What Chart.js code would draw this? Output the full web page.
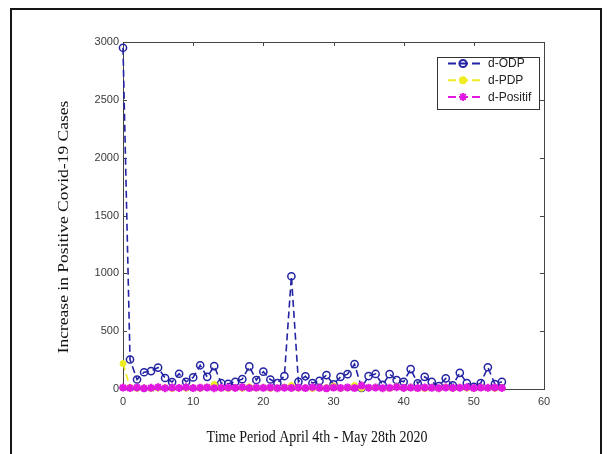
<!DOCTYPE html>
<html><head><meta charset="utf-8">
<script src="https://cdn.jsdelivr.net/npm/chart.js@4.4.1/dist/chart.umd.min.js"></script>
<style>html,body{margin:0;padding:0;background:#fff;}#wrap{width:610px;height:454px;position:relative;}</style>
</head><body><div id="wrap"><canvas id="c" width="610" height="454"></canvas></div>
<script>
// ---- data ----
const days = [0,1,2,3,4,5,6,7,8,9,10,11,12,13,14,15,16,17,18,19,20,21,22,23,24,25,26,27,28,29,30,31,32,33,34,35,36,37,38,39,40,41,42,43,44,45,46,47,48,49,50,51,52,53,54];
const dODP = [2950,255,82,145,155,185,95,60,132,62,100,205,105,198,50,45,62,85,195,78,150,82,52,112,975,62,110,52,70,120,40,105,128,215,10,112,130,35,128,78,62,172,48,105,62,25,92,32,140,52,18,52,188,42,62];
const dPDP = [220,15,5,10,3,8,12,4,9,6,11,5,14,40,8,5,10,6,20,7,12,5,9,15,30,6,10,4,8,12,25,5,9,30,6,10,14,7,5,20,8,12,6,3,9,5,15,4,10,7,6,12,8,5,10];
const dPositif = [12,8,14,6,10,16,7,12,9,15,8,11,14,7,10,13,9,16,8,12,10,14,7,11,9,13,8,15,10,6,12,9,14,8,30,11,13,7,10,16,9,12,8,14,10,7,13,9,11,15,8,12,10,14,9];
const seriesLabels = ['d-ODP','d-PDP','d-Positif'];
const xTicks = [0,10,20,30,40,50,60];
const yTicks = [0,500,1000,1500,2000,2500,3000];
const xTitle = 'Time Period April 4th - May 28th 2020';
const yTitle = 'Increase in Positive Covid-19 Cases';

const pts = arr => days.map((d,i)=>({x:d,y:arr[i]}));
const serif = '14px "Liberation Serif", "Times New Roman", serif';

const frame = {
  id:'frame',
  beforeDraw(chart){
    const c = chart.ctx;
    c.save();
    c.fillStyle='#fff'; c.fillRect(0,0,chart.width,chart.height);
    c.strokeStyle='#151515'; c.lineWidth=2;
    c.strokeRect(11,9,590,500);
    c.restore();
  },
  beforeDatasetsDraw(chart){
    const c = chart.ctx, a = chart.chartArea;
    const xs = chart.scales.x, ys = chart.scales.y;
    c.save();
    c.strokeStyle='#444'; c.lineWidth=1;
    c.strokeRect(Math.round(a.left)+0.5, Math.round(a.top)+0.5, Math.round(a.right-a.left), Math.round(a.bottom-a.top));
    const L=4;
    c.beginPath();
    xTicks.forEach(v=>{const p=Math.round(xs.getPixelForValue(v))+0.5;
      c.moveTo(p,a.bottom); c.lineTo(p,a.bottom-L); c.moveTo(p,a.top); c.lineTo(p,a.top+L);});
    yTicks.forEach(v=>{const p=Math.round(ys.getPixelForValue(v))+0.5;
      c.moveTo(a.left,p); c.lineTo(a.left+L,p); c.moveTo(a.right,p); c.lineTo(a.right-L,p);});
    c.stroke();
    c.restore();
  },
  afterDraw(chart){
    const c = chart.ctx;
    // axis titles (source image is stretched vertically)
    c.save();
    c.fillStyle='#111'; c.font=serif; c.textAlign='center'; c.textBaseline='middle';
    c.translate(317,437); c.scale(1,1.25); c.fillText(xTitle,0,0);
    c.restore();
    c.save();
    c.fillStyle='#111'; c.font=serif; c.textAlign='center'; c.textBaseline='middle';
    c.translate(64,227); c.rotate(-Math.PI/2); c.scale(1.25,1); c.fillText(yTitle,0,0);
    c.restore();
    // legend
    const bx=437.5, by=57.5, bw=102, bh=52;
    c.save();
    c.fillStyle='#fff'; c.fillRect(bx,by,bw,bh);
    c.strokeStyle='#333'; c.lineWidth=1; c.strokeRect(bx,by,bw,bh);
    chart.data.datasets.forEach((ds,i)=>{
      const y = 63.5 + i*16.7;
      c.strokeStyle=ds.borderColor; c.lineWidth=2; c.setLineDash([8,4]);
      c.beginPath(); c.moveTo(448,y); c.lineTo(484,y); c.stroke();
      c.setLineDash([]);
      c.strokeStyle=ds.pointBorderColor; c.fillStyle=ds.pointBackgroundColor;
      Chart.helpers.drawPoint(c,{pointStyle:ds.pointStyle,radius:ds.pointRadius,borderWidth:ds.pointBorderWidth,rotation:0},463,y);
      c.fillStyle='#222'; c.font='12px "Liberation Sans", Arial, sans-serif';
      c.textBaseline='middle'; c.textAlign='left';
      c.fillText(ds.label,488,y+0.5);
    });
    c.restore();
  }
};

const blue='#2323a3', yellow='#f0ec22', magenta='#e018e0';
new Chart(document.getElementById('c'),{
  type:'line',
  data:{datasets:[
    {label:seriesLabels[0],data:pts(dODP),borderColor:blue,backgroundColor:'rgba(0,0,0,0)',borderWidth:1.6,borderDash:[7,4],
     pointStyle:'circle',pointRadius:3.6,pointBorderWidth:1.5,pointBorderColor:blue,pointBackgroundColor:'rgba(255,255,255,0)',clip:false,order:3},
    {label:seriesLabels[1],data:pts(dPDP),borderColor:yellow,backgroundColor:yellow,borderWidth:1.6,borderDash:[7,4],
     pointStyle:'circle',pointRadius:3,pointBorderWidth:1,pointBorderColor:yellow,pointBackgroundColor:yellow,clip:false,order:2},
    {label:seriesLabels[2],data:pts(dPositif),borderColor:magenta,backgroundColor:magenta,borderWidth:2,borderDash:[7,4],
     pointStyle:'star',pointRadius:4,pointBorderWidth:2.2,pointBorderColor:magenta,pointBackgroundColor:magenta,clip:false,order:1}
  ]},
  options:{
    responsive:false,animation:false,devicePixelRatio:1,
    layout:{padding:{left:55,top:42,right:66,bottom:0}},
    plugins:{legend:{display:false},tooltip:{enabled:false}},
    elements:{line:{tension:0,fill:false}},
    scales:{
      x:{type:'linear',min:0,max:60,
        afterBuildTicks:s=>{s.ticks=xTicks.map(v=>({value:v}));},
        afterFit:s=>{s.height=65;},
        grid:{display:false,drawTicks:false},border:{display:false},
        ticks:{padding:6,color:'#3a3a3a',callback:v=>String(v),font:{family:'"Liberation Sans", Arial, sans-serif',size:11},maxRotation:0},
        title:{display:false}},
      y:{type:'linear',min:0,max:3000,
        afterBuildTicks:s=>{s.ticks=yTicks.map(v=>({value:v}));},
        afterFit:s=>{s.width=68;},
        grid:{display:false,drawTicks:false},border:{display:false},
        ticks:{padding:4,color:'#3a3a3a',callback:v=>String(v),font:{family:'"Liberation Sans", Arial, sans-serif',size:11}},
        title:{display:false}}
    }
  },
  plugins:[frame]
});
</script></body></html>
